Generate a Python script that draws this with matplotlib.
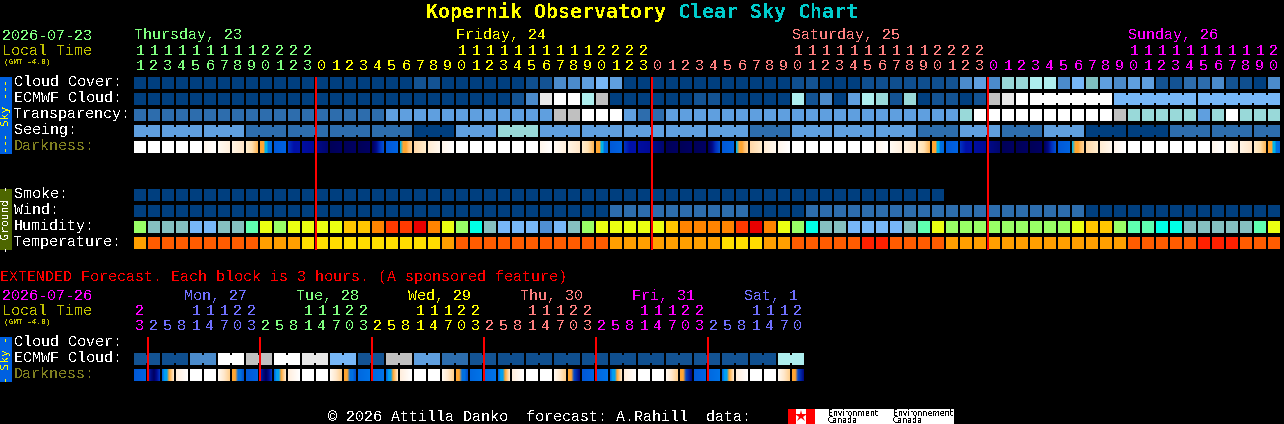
import numpy as np
import matplotlib
matplotlib.use('Agg')
import matplotlib.pyplot as plt
from matplotlib.colors import to_rgb

plt.rcParams['font.family'] = ['Liberation Mono', 'DejaVu Sans Mono']
plt.rcParams['text.antialiased'] = False

# colour tables
SKY = ['#003f7f', '#0f4f8f', '#135393', '#2d6dad', '#4b8bcb', '#5f9fdf', '#77b7f7',
       '#7fbfbf', '#99d9d9', '#aeeeee', '#c0c0c0', '#e8e8e8', '#ffffff']
HUM = {'g': '#99ff66', 't': '#85c0c0', 'b': '#77b7f7', 'B': '#4f8fd3', 'm': '#5fffb0', 'c': '#00ffe6',
       'y': '#eaff12', 'o': '#ffc600', 'O': '#ff8400', 'r': '#ff3a00', 'R': '#e90000'}
TEMP = {'d': '#ff5c00', 'a': '#ff9f00', 'y': '#ffdd00', 'r': '#ff2000'}
DARK_STOPS = {
    'W': ['#ffffff', '#ffffff'],
    'a': ['#fff6ec', '#ffffff'],
    'b': ['#fffaf4', '#fff0dd'],
    'c': ['#fff4e4', '#ffe6c8'],
    'd': ['#ffeccc', '#ffe0b0', '#ffb858'],
    'e': ['#ffa530', '#ffa530', '#ffa530', '#00b4e8', '#00b4e8', '#0070e0', '#0070e0', '#0068e0'],
    'g': ['#0058d8', '#0064e0'],
    'h': ['#0030c0', '#0010a8', '#0012a8'],
    'i': ['#000ea0', '#000a98'],
    'j': ['#000a88', '#000670'],
    'k': ['#000058', '#000062'],
    'm': ['#000060', '#000a88', '#0030c0', '#0050d0'],
    'n': ['#00b4e8', '#ffa530', '#ffa530', '#ffc070', '#ffd090'],
    'o': ['#ffd8a8', '#ffeccc'],
    'p': ['#ffecd4', '#fff8ee'],
    'Y': ['#ffeedd', '#ffffff'],
    'D': ['#fff8f0', '#ffe8cc', '#ffd090'],
    'E': ['#ffa530', '#ffa530', '#0070e0', '#0070e0', '#0050d0'],
    'F': ['#ffa530', '#ffa530', '#0048c8', '#0028a8', '#000a80'],
    'X': ['#0068e0', '#00a0f0', '#00a0f0', '#ffa530', '#ffc880', '#ffe6c4'],
    'L': ['#0068e0', '#0074e8'],
    'N': ['#0020b0', '#000a80', '#000060', '#000a90', '#0030c0'],
}

# main chart rows, one value per hour
cloud_cover = [0] * 20 + [2, 2, 0, 0, 0, 0, 0, 0, 1, 2, 4, 4, 5, 6, 5] + [0] * 12 + [1, 2, 0, 0, 0, 1, 1, 1, 1, 1, 1, 2,
               4, 5, 4, 8, 8, 9, 9, 4, 6, 7, 5, 4, 5, 5, 2, 2, 3, 3, 4, 2, 1, 0, 4]
ecmwf_cloud = [0] * 27 + [2, 4, 11, 12, 12, 9, 10, 0, 0, 0, 0, 0, 0, 2, 2, 0, 0, 0, 0, 0, 9, 2, 4, 0, 5,
               9, 8, 2, 8, 0, 2, 2, 0, 2, 10, 11, 12] + [12] * 6 + [6] * 12
transparency = [3] * 18 + [5] * 12 + [10, 10, 12, 12, 12, 5, 3, 3] + [5] * 21 + [8] + [12] * 10 + [10, 8, 8, 8, 8, 8, 5, 8, 12, 8, 8, 8]
seeing_blocks = [5, 5, 5, 3, 3, 3, 3, 0, 5, 8, 5, 5, 5, 5, 5, 3, 5, 5, 5, 3, 5, 3, 5, 0, 0, 3, 3, 3]
seeing_sizes = [2] + [3] * 26 + [2]
darkness = 'WWWWWabcdeghijkkkmgnopa' + 'WWWWWWabcdeghijkkkmgnopa' + 'WWWWWWabcdeghijkkkmgnopa' + 'WWWWWWabcde'
smoke = [0] * 58
wind = [0] * 34 + [3] * 10 + [0] * 4 + [3] * 20 + [0] * 14
humidity = ('g' + 'ttt' + 'bb' + 'tt' + 'm' + 'y' + 'g' + 'yyyy' + 'oo' + 'O' + 'rr' + 'R' + 'O' + 'y' + 'g' + 'c'
            + 't' + 'bbb' + 'B' + 'b' + 't' + 'g' + 'yyyyy' + 'o' + 'OOOO' + 'r' + 'R' + 'O' + 'y' + 'g' + 'c'
            + 'tt' + 'bbbb' + 't' + 'm' + 'y' + 'ggggggggg' + 'y' + 'oo' + 'g' + 'mm' + 'cc' + 'ttttt' + 'm' + 'y')
temperature = 'a' + 'd' * 8 + 'aaa' + 'y' * 10 + 'a' + 'd' * 11 + 'a' * 8 + 'yyy' + 'aa' + 'd' * 5 + 'rr' + 'dddd' + 'a' * 13 + 'd' * 5 + 'rrr' + 'ddd'

# extended chart rows, one value per block
ext_ecmwf = [2, 1, 4, 12, 10, 12, 11, 6, 2, 10, 5, 3, 2, 1, 1, 1, 1, 1, 1, 2, 2, 2, 1, 9]
ext_dark = 'gNXYWWDEgNXYWWDELLXYWWDELLXYWWDFgLXYWWDFgLXYWWDF'[:48]

# axis labels
day_names = ['Thursday, 23', 'Friday, 24', 'Saturday, 25', 'Sunday, 26']
day_cols = [0, 23, 47, 71]
day_colors = ['#80ff80', '#ffff00', '#ff8080', '#ff00ff']
day_hours = [[11, 12, 13, 14, 15, 16, 17, 18, 19, 20, 21, 22, 23],
             [0, 1, 2, 3, 4, 5, 6, 7, 8, 9, 10, 11, 12, 13, 14, 15, 16, 17, 18, 19, 20, 21, 22, 23],
             [0, 1, 2, 3, 4, 5, 6, 7, 8, 9, 10, 11, 12, 13, 14, 15, 16, 17, 18, 19, 20, 21, 22, 23],
             [0, 1, 2, 3, 4, 5, 6, 7, 8, 9, 10, 11, 12, 13, 14, 15, 16, 17, 18, 19, 20]]
ext_day_names = ['Mon, 27', 'Tue, 28', 'Wed, 29', 'Thu, 30', 'Fri, 31', 'Sat, 1']
ext_colors = ['#ff00ff', '#7070ff', '#80ff80', '#ffff00', '#ff8080', '#ff00ff', '#7070ff']
ext_hours = [[23], [2, 5, 8, 11, 14, 17, 20, 23], [2, 5, 8, 11, 14, 17, 20, 23], [2, 5, 8, 11, 14, 17, 20, 23],
             [2, 5, 8, 11, 14, 17, 20, 23], [2, 5, 8, 11, 14, 17, 20, 23], [2, 5, 8, 11, 14, 17, 20]]

X0 = 134
PITCH = 14
CELL = 12
FS = 10.8

fig = plt.figure(figsize=(12.84, 4.24), dpi=100, facecolor='black')
ax = fig.add_axes([0, 0, 1, 1])
ax.set_facecolor('black')
ax.axis('off')


def draw_cells(y, colors):
    xs = [X0 + i * PITCH for i in range(len(colors))]
    ax.bar(xs, CELL, CELL, bottom=y, color=colors, align='edge', linewidth=0, snap=False)


def draw_blocks(y, colors, sizes):
    # cells of one forecast block are joined by a narrower bridge
    i = 0
    for size in sizes:
        for k in range(size - 1):
            ax.bar(X0 + (i + k) * PITCH + CELL, CELL - 4, PITCH - CELL, bottom=y + 2, color=colors[i],
                   align='edge', linewidth=0, snap=False)
        i += size


def draw_dark(y, keys):
    for i, key in enumerate(keys):
        stops = np.array([to_rgb(c) for c in DARK_STOPS[key]])
        pos = np.linspace(0, 1, len(stops))
        t = np.linspace(0, 1, 12)
        img = np.stack([np.interp(t, pos, stops[:, c]) for c in range(3)], axis=1)[np.newaxis, :, :]
        x = X0 + i * PITCH
        ax.imshow(img, extent=(x, x + CELL, y + CELL, y), aspect='auto', interpolation='nearest', zorder=2)


def txt(x, y, s, color='white', size=FS, **kw):
    ax.text(x, y, s, color=color, fontsize=size, va='baseline', zorder=5, **kw)


def side_text(y, s, color):
    ax.text(6, y, s, color=color, fontsize=8, family='DejaVu Sans Mono', rotation=90, ha='center', va='center', zorder=5)


# title
title_font = 'DejaVu Sans Mono'
ax.text(426, 18, 'Kopernik Observatory', color='#ffff00', fontsize=14.35, fontweight='bold', family=title_font, va='baseline')
ax.text(678, 18, 'Clear Sky Chart', color='#00cccc', fontsize=14.35, fontweight='bold', family=title_font, va='baseline')

# main header
txt(2, 40, '2026-07-23', '#80ff80')
txt(2, 55, 'Local Time', '#c0c000')
txt(4, 64, '(GMT -4.0)', '#c0c000', size=5.6, fontweight='bold')
col = 0
for name, start, color, hours in zip(day_names, day_cols, day_colors, day_hours):
    txt(X0 + start * PITCH, 39, name, color)
    for h in hours:
        cx = X0 + col * PITCH + CELL / 2
        if h >= 10:
            txt(cx, 55, str(h // 10), color, ha='center')
        txt(cx, 70, str(h % 10), color, ha='center')
        col += 1

# main rows
row_labels = ['Cloud Cover:', 'ECMWF Cloud:', 'Transparency:', 'Seeing:', 'Darkness:']
for y, label in zip([86, 102, 118, 134], row_labels):
    txt(14, y, label)
txt(14, 150, row_labels[4], '#808020')
for y, label in zip([198, 214, 230, 246], ['Smoke:', 'Wind:', 'Humidity:', 'Temperature:']):
    txt(14, y, label)

seeing = []
for value, size in zip(seeing_blocks, seeing_sizes):
    seeing += [value] * size

draw_cells(77, [SKY[v] for v in cloud_cover])
draw_cells(93, [SKY[v] for v in ecmwf_cloud])
draw_blocks(93, [SKY[v] for v in ecmwf_cloud], [1] * 64 + [6, 6, 6])
draw_cells(109, [SKY[v] for v in transparency])
draw_cells(125, [SKY[v] for v in seeing])
draw_blocks(125, [SKY[v] for v in seeing], seeing_sizes)
draw_dark(141, darkness)
draw_cells(189, [SKY[v] for v in smoke])
draw_cells(205, [SKY[v] for v in wind])
draw_cells(221, [HUM[k] for k in humidity])
draw_cells(237, [TEMP[k] for k in temperature])

# midnight lines
for col in [13, 37, 61]:
    ax.bar(X0 + col * PITCH - 1, 173, 2, bottom=77, color='#ff0000', align='edge', linewidth=0, snap=False, zorder=4)

# side bars
ax.bar(0, 77, 12, bottom=77, color='#0060e0', align='edge', linewidth=0, snap=False)
side_text(115.5, '--- Sky ---', '#ffff00')
ax.bar(0, 61, 12, bottom=189, color='#4d6600', align='edge', linewidth=0, snap=False)
side_text(219.5, '- Ground -', 'white')
ax.bar(0, 45, 12, bottom=337, color='#0060e0', align='edge', linewidth=0, snap=False)
side_text(359.5, '- Sky -', '#ffff00')

# extended forecast
txt(0, 281, 'EXTENDED Forecast. Each block is 3 hours. (A sponsored feature)', '#ff0000')
txt(2, 300, '2026-07-26', '#ff00ff')
txt(2, 315, 'Local Time', '#c0c000')
txt(4, 324, '(GMT -4.0)', '#c0c000', size=5.6, fontweight='bold')
for k, name in enumerate(ext_day_names):
    txt(184 + k * 112, 300, name, ext_colors[k + 1])
col = 0
for color, hours in zip(ext_colors, ext_hours):
    for h in hours:
        cx = X0 + col * PITCH + CELL / 2
        if h >= 10:
            txt(cx, 315, str(h // 10), color, ha='center')
        txt(cx, 330, str(h % 10), color, ha='center')
        col += 1

txt(14, 346, 'Cloud Cover:')
txt(14, 362, 'ECMWF Cloud:')
txt(14, 378, 'Darkness:', '#808020')

ext_cells = []
for v in ext_ecmwf:
    ext_cells += [SKY[v], SKY[v]]
draw_cells(353, ext_cells)
draw_blocks(353, ext_cells, [2] * 24)
draw_dark(369, ext_dark)
for col in [1, 9, 17, 25, 33, 41]:
    ax.bar(X0 + col * PITCH - 1, 44, 2, bottom=337, color='#ff0000', align='edge', linewidth=0, snap=False, zorder=4)

# footer
txt(328, 421, '\u00a9 2026 Attilla Danko  forecast: A.Rahill  data:')
ax.bar(788, 15, 166, bottom=409, color='white', align='edge', linewidth=0, snap=False)
ax.bar([788, 806], 15, [8, 9], bottom=409, color='#ff0000', align='edge', linewidth=0, snap=False)
ax.plot([801], [416], marker='*', ms=9, color='#ff0000', mew=0, zorder=5)
for x, word in [(828, 'Environment'), (893, 'Environnement')]:
    ax.text(x, 416, word, color='black', fontsize=5.6, family='DejaVu Sans', va='baseline', zorder=5)
    ax.text(x, 423, 'Canada', color='black', fontsize=5.6, family='DejaVu Sans', va='baseline', zorder=5)

ax.set_xlim(0, 1284)
ax.set_ylim(424, 0)
fig.savefig('out.png', dpi=100, facecolor='black')
